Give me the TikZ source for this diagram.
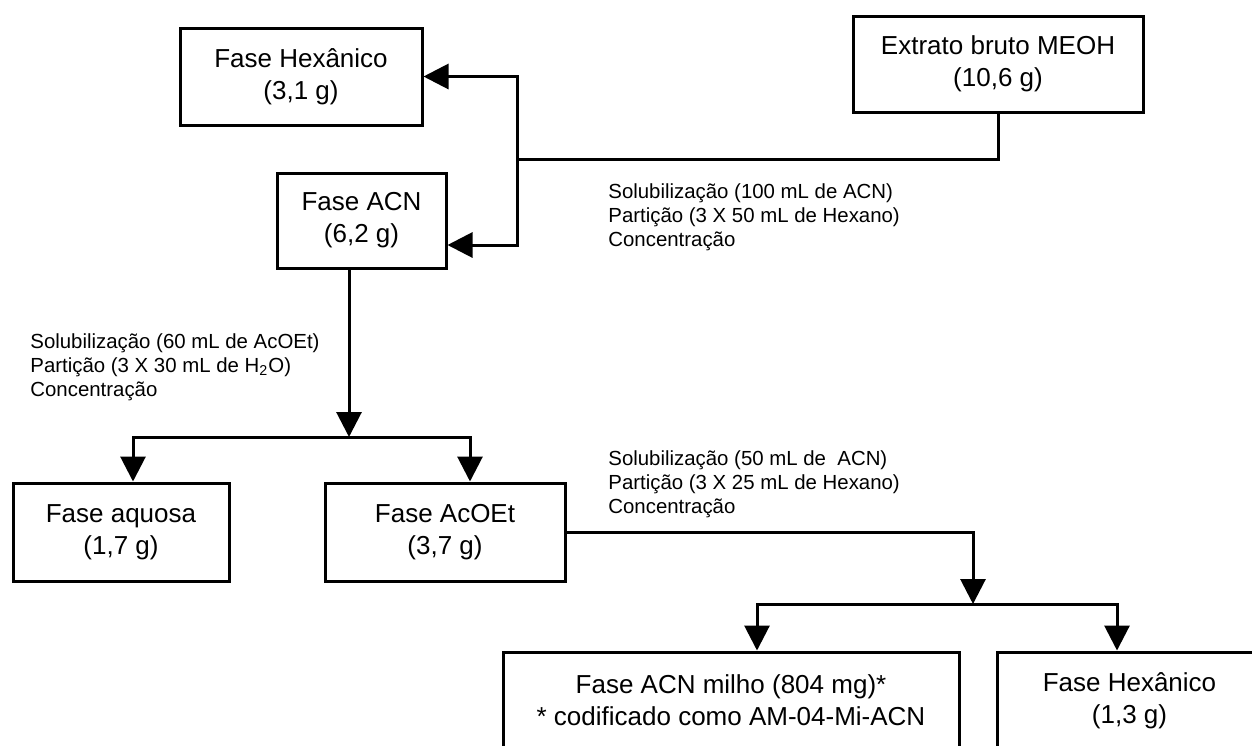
\documentclass[tikz,border=0pt]{standalone}
\usepackage{fontspec}
\setmainfont{Liberation Sans}
\usetikzlibrary{arrows.meta}
\begin{document}
\begin{tikzpicture}[x=0.5pt,y=-0.5pt,
  box/.style={draw,line width=1.5pt,inner sep=0pt,align=center,font=\fontsize{13}{16}\selectfont},
  conn/.style={line width=1.5pt},
  arr/.style={conn,-{Triangle[length=12.5pt,width=12.5pt]}},
  lab/.style={inner sep=0pt,anchor=base west,align=left,font=\fontsize{10.2}{11.9}\selectfont}]
\useasboundingbox (0,0) rectangle (1252,745);
\clip (0,0) rectangle (1252,745);
% boxes
\node[box,minimum width=121pt,minimum height=48.5pt] (hex1) at (301,76.5) {Fase Hexânico\\(3,1 g)};
\node[box,minimum width=145pt,minimum height=48pt] (ext) at (998,64) {Extrato bruto MEOH\\(10,6 g)};
\node[box,minimum width=84.5pt,minimum height=47.5pt] (acn) at (361.5,220.5) {Fase ACN\\(6,2 g)};
\node[box,minimum width=108pt,minimum height=49pt] (aq) at (121,532) {Fase aquosa\\(1,7 g)};
\node[box,minimum width=120pt,minimum height=49pt] (acoet) at (445,532) {Fase AcOEt\\(3,7 g)};
\node[box,minimum width=228pt,minimum height=48.5pt] (acnm) at (731,700.5) {Fase ACN milho (804 mg)*\\* codificado como AM-04-Mi-ACN};
\node[box,minimum width=132.5pt,minimum height=48.5pt] (hex2) at (1129.5,700.5) {Fase Hexânico\\(1,3 g)};
% labels (anchored at the baseline of the last line)
\node[lab] (l1) at (608,246.5) {Solubilização (100 mL de ACN)\\Partição (3 X 50 mL de Hexano)\\Concentração};
\node[lab] (l2) at (30,396) {Solubilização (60 mL de AcOEt)\\Partição (3 X 30 mL de H\textsubscript{2}O)\\Concentração};
\node[lab] (l3) at (608,513) {Solubilização (50 mL de~ ACN)\\Partição (3 X 25 mL de Hexano)\\Concentração};
% connectors
\coordinate (j1) at (517,159);
\draw[conn] (ext.south) |- (j1);
\draw[arr] (j1) |- (hex1.east);
\draw[arr] (j1) |- ([yshift=-12.25pt]acn.east);
\coordinate (j2) at (349,437);
\draw[arr] (acn.south -| j2) -- (j2);
\draw[arr] (j2) -| ([xshift=6pt]aq.north);
\draw[arr] (j2) -| ([xshift=12.5pt]acoet.north);
\coordinate (j3) at (973,604);
\draw[arr] (acoet.east) -| (j3);
\draw[arr] (j3) -| ([xshift=13pt]acnm.north);
\draw[arr] (j3) -| ([xshift=-6.25pt]hex2.north);
\end{tikzpicture}
\end{document}
